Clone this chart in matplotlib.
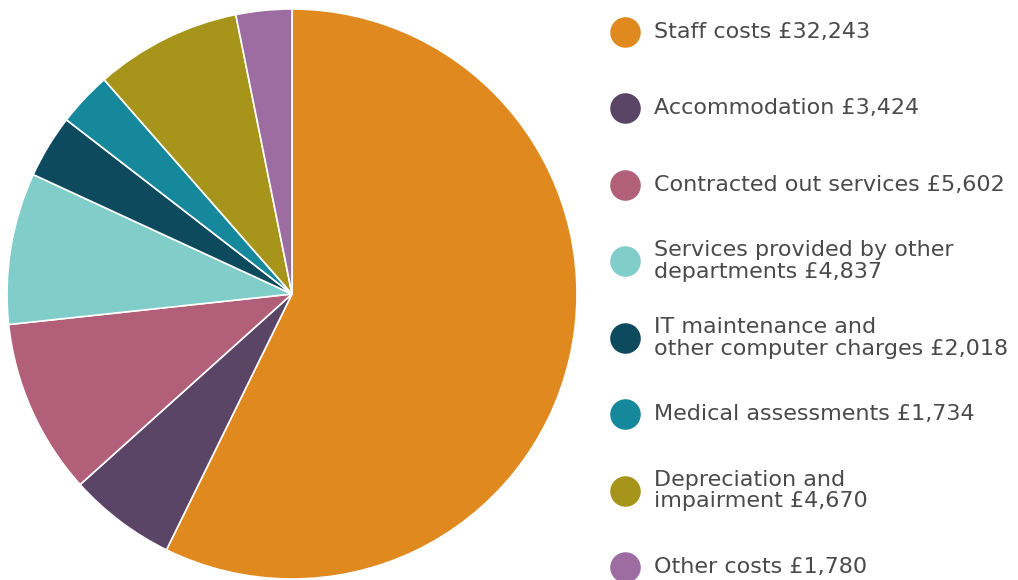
import matplotlib
matplotlib.use("Agg")
import matplotlib.pyplot as plt
import numpy as np

categories = ["Staff costs", "Accommodation", "Contracted out services",
              "Services provided by other\ndepartments",
              "IT maintenance and\nother computer charges",
              "Medical assessments", "Depreciation and\nimpairment", "Other costs"]
values = [32243, 3424, 5602, 4837, 2018, 1734, 4670, 1780]
colors = ["#E0891F", "#5A4566", "#B25F79", "#80CDC9", "#0D4A5D", "#16889C", "#A6951A", "#9D6DA1"]

W, H = 1018, 580
fig = plt.figure(figsize=(W / 100, H / 100), dpi=100)
fig.patch.set_facecolor("white")

# pie axes: centre (292, 294 from top), radius ~285 px
cx, cy, r = 292, H - 294, 285
ax = fig.add_axes([(cx - r) / W, (cy - r) / H, 2 * r / W, 2 * r / H])
ax.pie(values, colors=colors, startangle=90, counterclock=False, radius=1,
       wedgeprops=dict(edgecolor="white", linewidth=1.2))
ax.set_xlim(-1, 1)
ax.set_ylim(-1, 1)
ax.set_axis_off()

# legend in figure pixel coords
lax = fig.add_axes([0, 0, 1, 1])
lax.set_xlim(0, W)
lax.set_ylim(H, 0)
lax.set_axis_off()
ys = np.linspace(32, 567, len(categories))
for y, name, val, col in zip(ys, categories, values, colors):
    lax.plot([625], [y], marker="o", markersize=22, color=col, markeredgewidth=0)
    lax.text(654, y, f"{name} £{val:,}", va="center", ha="left",
             fontsize=16, color="#4a4a4a", linespacing=1.1,
             family=["DejaVu Sans"])

fig.savefig("out.png", dpi=100, facecolor="white")
